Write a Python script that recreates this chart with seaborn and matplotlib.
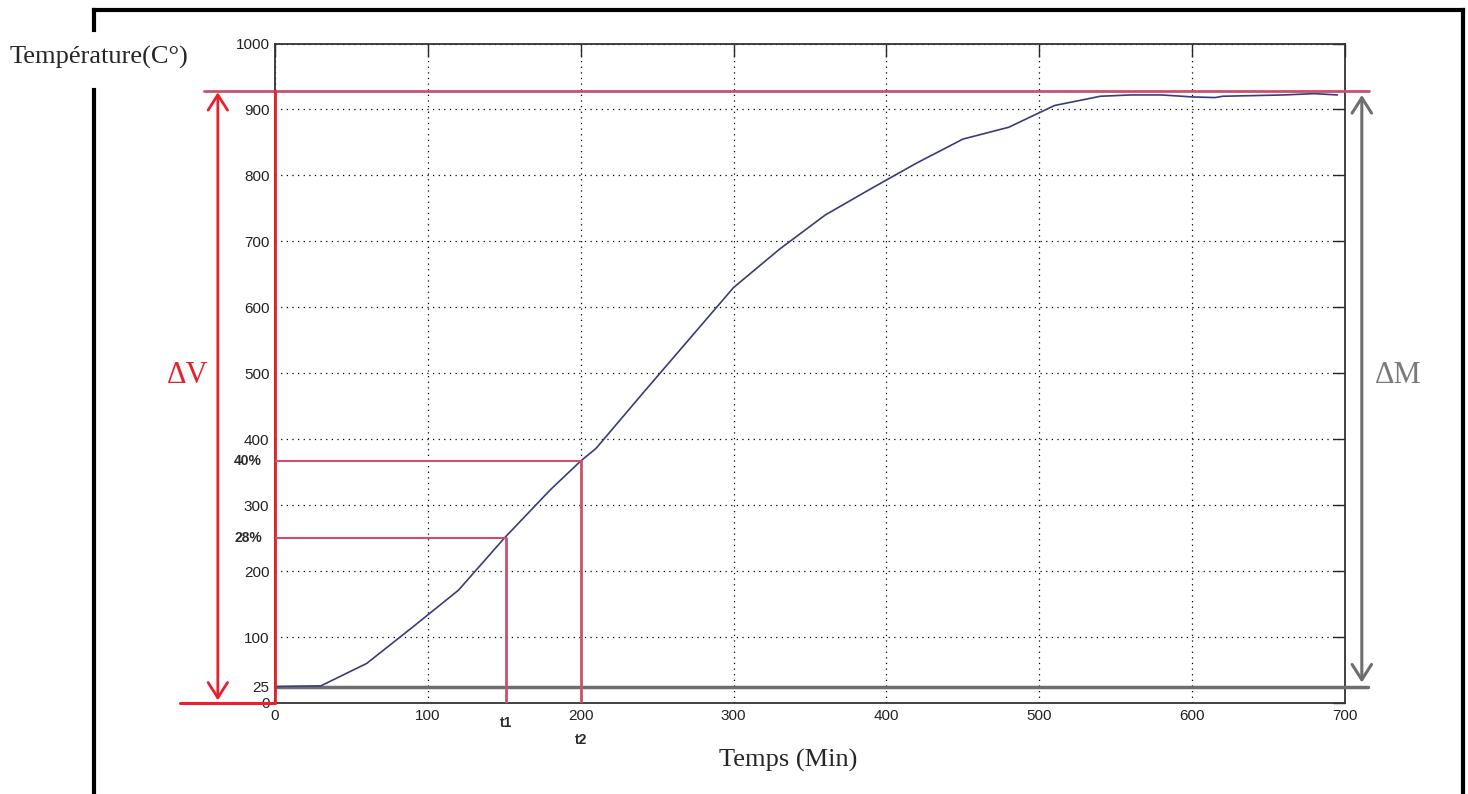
import numpy as np
import pandas as pd
import seaborn as sns
import matplotlib.pyplot as plt
from matplotlib.lines import Line2D

# courbe de chauffe
time_min = [0, 30, 60, 90, 120, 150, 180, 200, 210, 240, 270, 300, 330, 360, 390,
            420, 450, 480, 510, 540, 560, 580, 600, 615, 620, 660, 680, 695]
temp_c = [25, 26, 60, 115, 171, 250, 323, 367, 386, 468, 549, 630, 688, 740, 780,
          819, 855, 873, 906, 920, 922, 922, 919, 918, 920, 922, 924, 922]

x_ticks = [0, 100, 200, 300, 400, 500, 600, 700]
y_ticks = [0, 25, 100, 200, 300, 400, 500, 600, 700, 800, 900, 1000]

t1, t2 = 151, 200
p28, p40 = 250, 367
t_max = 928
t_amb = 25

df = pd.DataFrame({"Temps": time_min, "Temperature": temp_c})

sns.set_style("white")
plt.rcParams['font.family'] = ['Liberation Sans Narrow', 'Liberation Sans', 'DejaVu Sans']

fig = plt.figure(figsize=(14.68, 7.94), dpi=100)
ax = fig.add_axes([275/1468, 1-703/794, 1070/1468, 659.5/794])

red = "#e8202a"
pink = "#cc4f6c"
grey = "#6e6e6e"

sns.lineplot(data=df, x="Temps", y="Temperature", ax=ax, color="#3b3b7c", lw=1.2, zorder=5)

ax.set_xlim(0, 700)
ax.set_ylim(0, 1000)
ax.set_xticks(x_ticks)
ax.set_yticks(y_ticks)
ax.set_xlabel("")
ax.set_ylabel("")
ax.grid(True, linestyle=(0, (1, 3.5)), color="k", lw=0.9)
ax.tick_params(direction="in", top=True, right=True, length=9, width=1,
               labelsize=11, labelcolor="#222222", pad=4)
for s in ax.spines.values():
    s.set_color("#333333")
    s.set_linewidth(1.3)
    s.set_visible(True)

# lignes repères
ax.plot([-46.6, 716], [t_max, t_max], color=pink, lw=2, clip_on=False, zorder=6)
ax.plot([0, 715], [t_amb, t_amb], color=grey, lw=2.5, clip_on=False, zorder=4)
ax.plot([0, 0], [0, t_max], color=red, lw=2, clip_on=False, zorder=6)
ax.plot([-62.3, 0], [0, 0], color=red, lw=2.2, clip_on=False, zorder=6)

ax.plot([0, t1], [p28, p28], color=pink, lw=1.5, zorder=6)
ax.plot([t1, t1], [0, p28], color=pink, lw=2, zorder=6)
ax.plot([0, t2], [p40, p40], color=pink, lw=1.5, zorder=6)
ax.plot([t2, t2], [0, p40], color=pink, lw=2, zorder=6)

# flèches ΔV et ΔM
ax.annotate("", xy=(-37.4, 926), xytext=(-37.4, 4), annotation_clip=False,
            arrowprops=dict(arrowstyle="<->,head_length=0.55,head_width=0.35",
                            color=red, lw=2, mutation_scale=20, shrinkA=0, shrinkB=0))
ax.annotate("", xy=(711, 922), xytext=(711, 31), annotation_clip=False,
            arrowprops=dict(arrowstyle="<->,head_length=0.55,head_width=0.35",
                            color=grey, lw=2.2, mutation_scale=20, shrinkA=0, shrinkB=0))

ax.text(-57, 497, "ΔV", color=red, fontsize=22, family="Liberation Serif",
        ha="center", va="center", clip_on=False)
ax.text(735, 497, "ΔM", color="#7a7a7a", fontsize=22, family="Liberation Serif",
        ha="center", va="center", clip_on=False)

lab = dict(fontsize=10, fontweight="bold", family="Liberation Sans", color="#2a2a2a",
           clip_on=False)
ax.text(-8.5, p40, "40%", ha="right", va="center", **lab)
ax.text(-8.5, p28, "28%", ha="right", va="center", **lab)
ax.text(t1, -30, "t1", ha="center", va="center", **lab)
ax.text(t2, -56, "t2", ha="center", va="center", **lab)

fig.text(10/1468, 1-57/794, "Température(C°)", fontsize=19, family="Liberation Serif",
         ha="left", va="center")
fig.text(788/1468, 1-760/794, "Temps (Min)", fontsize=19, family="Liberation Serif",
         ha="center", va="center")

# cadre extérieur
W, H = 1468, 794
def seg(x0, y0, x1, y1):
    fig.add_artist(Line2D([x0/W, x1/W], [1-y0/H, 1-y1/H], color="k", lw=3,
                          solid_capstyle="projecting"))
seg(94, 10, 1463, 10)
seg(94, 10, 94, 30)
seg(94, 90, 94, 794)
seg(1463, 10, 1463, 794)

fig.savefig("out.png", dpi=100)
